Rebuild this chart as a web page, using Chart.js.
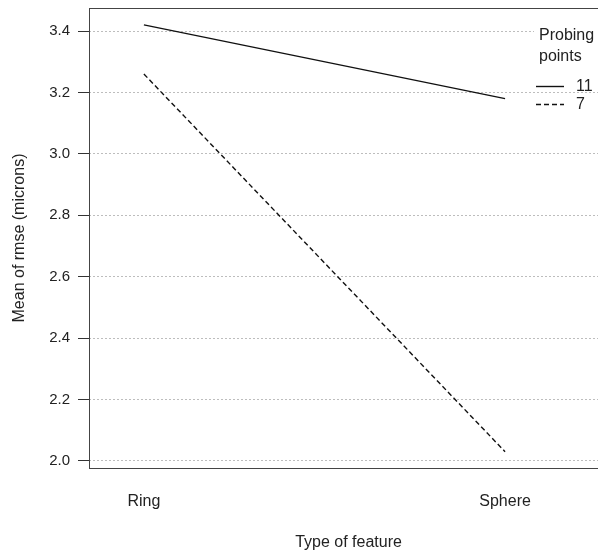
<!DOCTYPE html>
<html>
<head>
<meta charset="utf-8">
<title>Mean of rmse by type of feature</title>
<script src="https://cdn.jsdelivr.net/npm/chart.js@4.4.1/dist/chart.umd.min.js"></script>
<style>
  html, body { margin: 0; padding: 0; background: #fff; overflow: hidden; }
  #wrap { width: 598px; height: 556px; overflow: hidden; }
</style>
</head>
<body>
<div id="wrap"><canvas id="chart" width="612" height="556"></canvas></div>
<script>
// factor levels on the x axis
const features = ['Ring', 'Sphere'];
// mean rmse for each number of probing points
const probe11 = [3.42, 3.18];
const probe7 = [3.26, 2.03];
const yTicks = [2.0, 2.2, 2.4, 2.6, 2.8, 3.0, 3.2, 3.4];
const legendLabels = ['11', '7'];

const ink = '#222';
const fontName = "'Liberation Sans', Arial, sans-serif";

// box round the plot region
const frame = {
  id: 'frame',
  afterDatasetsDraw(chart) {
    const a = chart.chartArea, ctx = chart.ctx;
    ctx.save();
    ctx.strokeStyle = '#444';
    ctx.lineWidth = 1;
    ctx.strokeRect(Math.round(a.left) + 0.5, Math.round(a.top) + 0.5,
                   Math.round(a.right - a.left), Math.round(a.bottom - a.top));
    ctx.restore();
  }
};

// legend like R's interaction.plot: title lines then line samples
const probeLegend = {
  id: 'probeLegend',
  beforeDatasetsDraw(chart) {
    const ctx = chart.ctx;
    ctx.save();
    ctx.fillStyle = '#fff';
    ctx.fillRect(534, 18, 80, 72);
    ctx.restore();
  },
  afterDraw(chart) {
    const ctx = chart.ctx;
    ctx.save();
    ctx.font = '16px ' + fontName;
    ctx.fillStyle = ink;
    ctx.textBaseline = 'middle';
    ctx.textAlign = 'left';
    ctx.fillText('Probing', 539, 36);
    ctx.fillText('points', 539, 57);
    chart.data.datasets.forEach((ds, i) => {
      const y = 86 + i * 18 + 0.5;
      ctx.strokeStyle = ds.borderColor;
      ctx.lineWidth = ds.borderWidth;
      ctx.setLineDash(ds.borderDash || []);
      ctx.beginPath();
      ctx.moveTo(536, y);
      ctx.lineTo(564, y);
      ctx.stroke();
      ctx.fillText(legendLabels[i], 576, y);
    });
    ctx.restore();
  }
};

new Chart(document.getElementById('chart'), {
  type: 'line',
  data: {
    datasets: [
      {
        label: legendLabels[0],
        data: probe11.map((v, i) => ({ x: i + 1, y: v })),
        borderColor: '#111',
        borderWidth: 1.4,
        pointRadius: 0,
        fill: false
      },
      {
        label: legendLabels[1],
        data: probe7.map((v, i) => ({ x: i + 1, y: v })),
        borderColor: '#111',
        borderWidth: 1.4,
        borderDash: [5, 3],
        pointRadius: 0,
        fill: false
      }
    ]
  },
  options: {
    responsive: false,
    animation: false,
    layout: { padding: { top: 8, right: 4, left: 0, bottom: 0 } },
    plugins: {
      legend: { display: false },
      tooltip: { enabled: false }
    },
    scales: {
      x: {
        type: 'linear',
        min: 0.848,
        max: 2.285,
        afterBuildTicks: s => { s.ticks = features.map((f, i) => ({ value: i + 1 })); },
        afterFit: s => { s.height = 88; s.paddingLeft = 0; s.paddingRight = 0; },
        ticks: {
          callback: v => features[v - 1],
          color: ink,
          font: { family: fontName, size: 16 },
          padding: 24,
          maxRotation: 0
        },
        grid: { display: false, drawTicks: false },
        border: { display: false },
        title: {
          display: true,
          text: 'Type of feature',
          color: ink,
          font: { family: fontName, size: 16 },
          padding: { top: 0, bottom: 4 }
        }
      },
      y: {
        min: 1.977,
        max: 3.475,
        afterBuildTicks: s => { s.ticks = yTicks.map(v => ({ value: v })); },
        afterFit: s => { s.width = 89; s.paddingTop = 0; s.paddingBottom = 0; },
        ticks: {
          callback: v => v.toFixed(1),
          color: ink,
          font: { family: fontName, size: 15 },
          padding: 8
        },
        grid: {
          color: '#bdbdbd',
          lineWidth: 1,
          tickLength: 11,
          tickColor: '#333',
          tickBorderDash: []
        },
        border: { display: false, dash: [2, 2] },
        title: {
          display: true,
          text: 'Mean of rmse (microns)',
          color: ink,
          font: { family: fontName, size: 16 },
          padding: { top: 10, bottom: 0 }
        }
      }
    }
  },
  plugins: [frame, probeLegend]
});
</script>
</body>
</html>
